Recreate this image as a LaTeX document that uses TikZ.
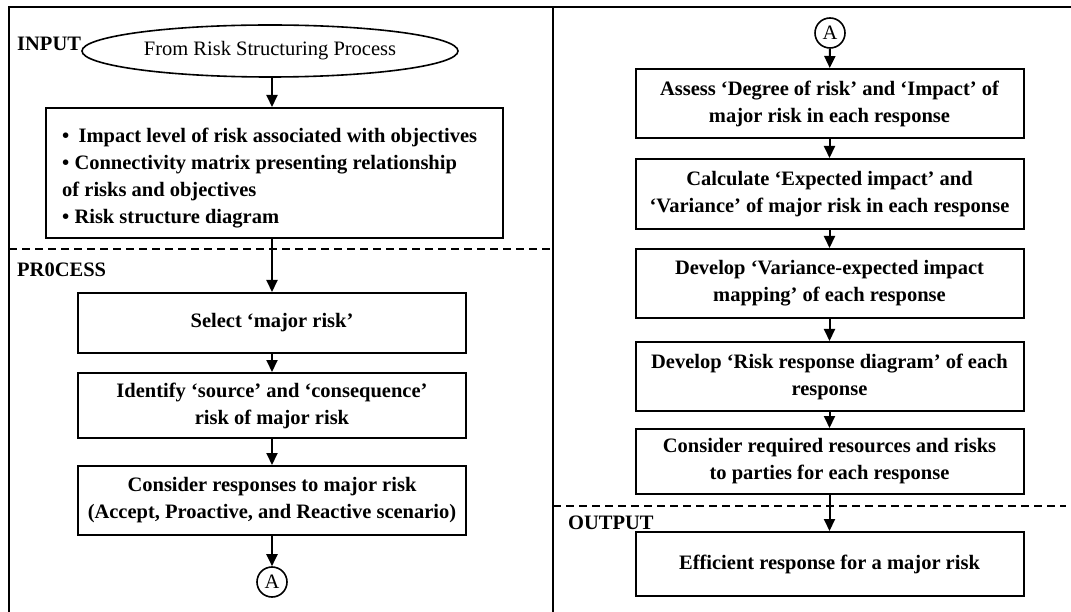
\documentclass[tikz,border=0pt]{standalone}
\usepackage{fontspec}
\setmainfont{Liberation Serif}
\usetikzlibrary{arrows.meta,shapes.geometric}
\begin{document}
\begin{tikzpicture}[x=1pt,y=-1pt,
  frame/.style={line width=2pt},
  sep/.style={line width=1.6pt,dash pattern=on 8pt off 5pt},
  stepbox/.style={draw,line width=2pt,minimum width=388pt,align=center,inner sep=2pt,
    font=\bfseries\fontsize{20.5}{27}\selectfont},
  sectlabel/.style={anchor=west,inner sep=0pt,font=\bfseries\fontsize{20.5}{24}\selectfont},
  conn/.style={draw,circle,line width=1.6pt,minimum size=30pt,inner sep=0pt,
    font=\fontsize{20.5}{24}\selectfont},
  arr/.style={line width=2pt,-{Triangle[length=12pt,width=11pt]}}
]
\useasboundingbox (0,0) rectangle (1071,612);

% frame and column divider
\draw[frame] (9,612) -- (9,7) -- (1071,7);
\draw[frame] (553,7) -- (553,612);

% section separators
\draw[sep] (9,249) -- (553,249);
\draw[sep] (553,506) -- (1066,506);

% section labels
\node[sectlabel] (lin) at (17,43.5) {INPUT};
\node[sectlabel] (lpr) at (17,270) {PR0CESS};
\node[sectlabel] (lout) at (568,522.5) {OUTPUT};

% left column
\node[draw,ellipse,line width=1.6pt,minimum width=376pt,minimum height=52pt,inner sep=0pt,
  font=\fontsize{20.5}{24}\selectfont] (src) at (270,51) {From Risk Structuring Process};
\node[draw,line width=2pt,minimum width=457pt,minimum height=130pt] (inbox) at (274.5,173) {};
\node[anchor=west,align=left,inner sep=0pt,font=\bfseries\fontsize{20.5}{27}\selectfont]
  (intext) at (62,178)
  {•\hspace{0.45em}Impact level of risk associated with objectives\\
   • Connectivity matrix presenting relationship\\
   of risks and objectives\\
   • Risk structure diagram};
\node[stepbox,minimum height=60pt] (sel) at (272,323) {Select ‘major risk’};
\node[stepbox,minimum height=65pt] (ident) at (272,405.5)
  {Identify ‘source’ and ‘consequence’\\risk of major risk};
\node[stepbox,minimum height=69pt] (resp) at (272,500.5)
  {Consider responses to major risk\\(Accept, Proactive, and Reactive scenario)};
\node[conn] (ca) at (272,582) {A};

% right column
\node[conn] (cb) at (830,33) {A};
\node[stepbox,minimum height=69pt] (assess) at (829.5,103.5)
  {Assess ‘Degree of risk’ and ‘Impact’ of\\major risk in each response};
\node[stepbox,minimum height=70pt] (calc) at (829.5,194)
  {Calculate ‘Expected impact’ and\\‘Variance’ of major risk in each response};
\node[stepbox,minimum height=69pt] (devve) at (829.5,283.5)
  {Develop ‘Variance-expected impact\\mapping’ of each response};
\node[stepbox,minimum height=69pt] (devrr) at (829.5,376.5)
  {Develop ‘Risk response diagram’ of each\\response};
\node[stepbox,minimum height=65pt] (cons) at (829.5,461.5)
  {Consider required resources and risks\\to parties for each response};
\node[stepbox,minimum height=64pt] (eff) at (829.5,564)
  {Efficient response for a major risk};

% connectors
\draw[arr] (src.south -| sel.north) -- (sel.north |- inbox.north);
\draw[arr] (inbox.south -| sel.north) -- (sel.north);
\draw[arr] (sel) -- (ident);
\draw[arr] (ident) -- (resp);
\draw[arr] (resp) -- (ca);
\draw[arr] (cb) -- (assess);
\draw[arr] (assess) -- (calc);
\draw[arr] (calc) -- (devve);
\draw[arr] (devve) -- (devrr);
\draw[arr] (devrr) -- (cons);
\draw[arr] (cons) -- (eff);
\end{tikzpicture}
\end{document}
